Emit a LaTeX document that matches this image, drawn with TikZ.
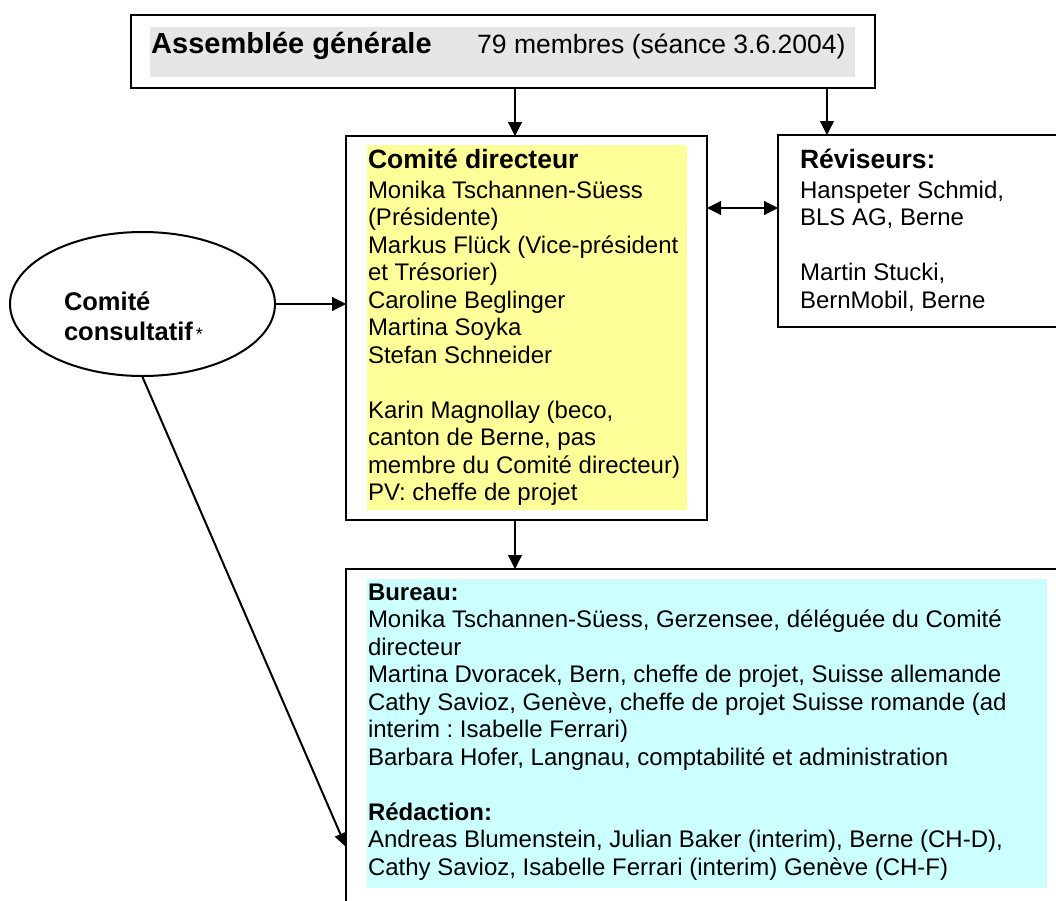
\documentclass[tikz,border=0pt]{standalone}
\usepackage{fontspec}
\setmainfont{Liberation Sans}
\usetikzlibrary{arrows.meta,shapes.geometric}
\definecolor{agGray}{RGB}{230,230,230}
\definecolor{cdYellow}{RGB}{255,255,153}
\definecolor{buCyan}{RGB}{204,255,255}
\frenchspacing
\begin{document}
\begin{tikzpicture}[x=1pt,y=-1pt,
  box/.style={draw,line width=2pt,rectangle,inner sep=0pt,outer sep=0pt},
  panel/.style={rectangle,inner sep=0pt,outer sep=0pt,draw=none},
  txt/.style={inner sep=0pt,outer sep=0pt,align=left,anchor=north west,font=\fontsize{24}{27.5}\selectfont},
  arr/.style={line width=1.2pt,-{Triangle[length=14pt,width=14pt]}},
  darr/.style={line width=1.2pt,{Triangle[length=14pt,width=14pt]}-{Triangle[length=14pt,width=14pt]}},
  thickarr/.style={line width=2pt,-{Triangle[length=14pt,width=12pt]}}
]
\useasboundingbox (0,0) rectangle (1056,900);
\clip (0,0) rectangle (1056,900);

% Assemblée générale
\node[box,minimum width=744pt,minimum height=73pt] (ag) at (503,51.5) {};
\node[panel,fill=agGray,minimum width=705pt,minimum height=50pt] (agfill) at (502.5,52) {};
\node[inner sep=0pt,anchor=base west,font=\fontsize{29}{33}\selectfont\bfseries] (agt) at (151,53) {Assemblée générale};
\node[inner sep=0pt,anchor=base west,font=\fontsize{26.5}{30}\selectfont] (agm) at (477,53) {79 membres (séance 3.6.2004)};

% Comité directeur
\node[box,minimum width=361pt,minimum height=384pt] (cd) at (526.5,328) {};
\node[panel,fill=cdYellow,minimum width=320pt,minimum height=365pt] (cdfill) at (527,327.5) {};
\node[txt] (cdt) at (368,147) {\rule{0pt}{21pt}{\fontsize{26.5}{30}\selectfont\bfseries Comité directeur}\\[2.5pt]
Monika Tschannen-Süess\\
(Présidente)\\
Markus Flück (Vice-président\\
et Trésorier)\\
Caroline Beglinger\\
Martina Soyka\\
Stefan Schneider\\[27.5pt]
Karin Magnollay (beco,\\
canton de Berne, pas\\
membre du Comité directeur)\\
PV: cheffe de projet};

% Réviseurs
\node[box,minimum width=298pt,minimum height=192pt] (rv) at (927,231) {};
\node[txt] (rvt) at (800,147) {\rule{0pt}{21pt}{\fontsize{26.5}{30}\selectfont\bfseries Réviseurs:}\\[2.5pt]
Hanspeter Schmid,\\
BLS AG, Berne\\[27.5pt]
Martin Stucki,\\
BernMobil, Berne};

% Comité consultatif
\node[draw,line width=2pt,ellipse,inner sep=0pt,minimum width=265pt,minimum height=144pt] (cc) at (142.5,304) {};
\node[txt,font=\fontsize{25.5}{30}\selectfont\bfseries] (cct) at (64,289) {\rule{0pt}{21pt}Comité\\
consultatif{\fontsize{18}{18}\selectfont\mdseries\,*}};

% Bureau
\node[box,minimum width=730pt,minimum height=351pt] (bu) at (711,744.5) {};
\node[panel,fill=buCyan,minimum width=680pt,minimum height=309pt] (bufill) at (707,733.5) {};
\node[txt] (but) at (368,579) {\rule{0pt}{21pt}\textbf{Bureau:}\\
Monika Tschannen-Süess, Gerzensee, déléguée du Comité\\
directeur\\
Martina Dvoracek, Bern, cheffe de projet, Suisse allemande\\
Cathy Savioz, Genève, cheffe de projet Suisse romande (ad\\
interim : Isabelle Ferrari)\\
Barbara Hofer, Langnau, comptabilité et administration\\[27.5pt]
\textbf{Rédaction:}\\
Andreas Blumenstein, Julian Baker (interim), Berne (CH-D),\\
Cathy Savioz, Isabelle Ferrari (interim) Genève (CH-F)};

% helper coordinates
\coordinate (xa) at (515,0);
\coordinate (xb) at (827,0);
\coordinate (yc) at (0,208);
\coordinate (yt) at (0,847);

% connectors
\draw[arr] (ag.south -| xa) -- (cd.north -| xa);
\draw[arr] (ag.south -| xb) -- (rv.north -| xb);
\draw[darr] (cd.east |- yc) -- (rv.west |- yc);
\draw[arr] (cc.east) -- (cd.west |- cc.east);
\draw[arr] (cd.south -| xa) -- (bu.north -| xa);
\draw[thickarr] (cc.south) -- (bu.west |- yt);
\end{tikzpicture}
\end{document}
